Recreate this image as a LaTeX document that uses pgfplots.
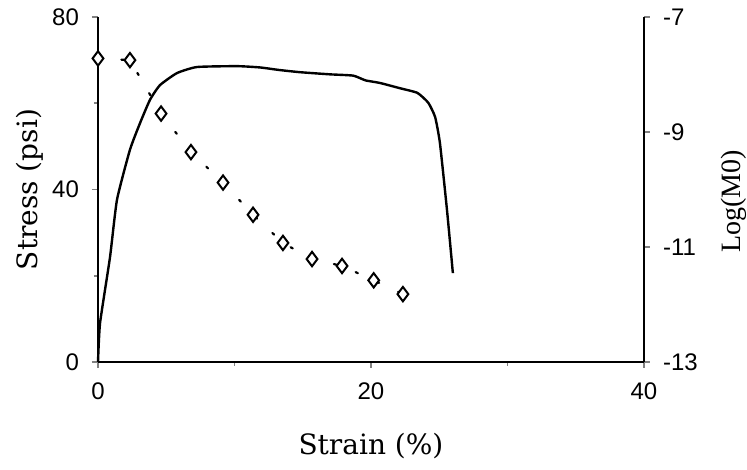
\documentclass[border=0pt]{standalone}
\usepackage{fontspec}
\usepackage{pgfplots}
\pgfplotsset{compat=1.18}
\newfontfamily\tickfont{Liberation Sans}
\newfontfamily\labfont{DejaVu Serif}
\newfontfamily\timesfont{Liberation Serif}
\begin{document}
\begin{tikzpicture}
\begin{axis}[
  scale only axis, width=273pt, height=172.5pt,
  xmin=0, xmax=40, ymin=0, ymax=80,
  axis x line*=bottom, axis y line*=left,
  axis line style={line width=1.1pt, -},
  xtick={0,20,40}, minor xtick={10,30},
  ytick={0,40,80}, minor ytick={20,60},
  tick align=outside, major tick length=3pt, minor tick length=2pt,
  tick style={line width=0.9pt},
  /pgf/number format/assume math mode=true,
  ticklabel style={font=\tickfont\fontsize{12}{14}\selectfont},
  yticklabel style={xshift=-3pt},
  xticklabel style={yshift=-4pt},
  xlabel={Strain (\%)}, ylabel={Stress (psi)},
  every axis x label/.style={at={(axis description cs:0.5,-0.2696)}, anchor=base, font=\labfont\fontsize{14}{16}\selectfont},
  every axis y label/.style={at={(axis description cs:-0.1117,0.5)}, rotate=90, anchor=base, font=\labfont\fontsize{14}{16}\selectfont},
  clip=false,
]
\addplot[black, line width=1.2pt, smooth, tension=0.3] coordinates {
(0,0) (0.15,9.0) (0.88,24.3) (1.39,37.6) (2.34,49.2) (3.08,55.4) (3.81,60.8)
(4.54,64.2) (5.79,67.0) (7.25,68.4) (10.2,68.6) (11.87,68.3) (13.3,67.7)
(14.8,67.2) (17.0,66.7) (18.7,66.4) (19.6,65.3) (20.66,64.7) (22.1,63.5)
(23.4,62.4) (24.2,60.1) (24.7,56.8) (25.05,50.8) (25.57,35.2) (26.0,20.6)
};
\coordinate (tl) at (axis cs:-7.18,83.94);
\coordinate (br) at (axis cs:47.55,-25.04);
\end{axis}
\begin{axis}[
  scale only axis, width=273pt, height=172.5pt,
  xmin=0, xmax=40, ymin=-13, ymax=-7,
  axis x line=none, axis y line*=right,
  axis line style={line width=1.1pt, -},
  ytick={-13,-11,-9,-7},
  tick align=outside, major tick length=3pt,
  tick style={line width=0.9pt},
  /pgf/number format/assume math mode=true,
  ticklabel style={font=\tickfont\fontsize{12}{14}\selectfont},
  yticklabel style={xshift=3pt},
  ylabel={Log(M0)},
  every axis y label/.style={at={(axis description cs:1.176,0.465)}, rotate=90, anchor=base, font=\timesfont\fontsize{14}{16}\selectfont},
  clip=false,
]
\addplot[black, line width=1.1pt, dash pattern=on 1.2pt off 10.5pt, line cap=round,
  mark=diamond*, mark size=3.6pt, mark options={solid, fill=white, draw=black, line width=1pt}] coordinates {
(0,-7.72) (2.34,-7.75) (4.62,-8.68) (6.81,-9.35) (9.16,-9.88) (11.36,-10.44)
(13.55,-10.93) (15.68,-11.21) (17.88,-11.33) (20.2,-11.58) (22.34,-11.82)
};
\end{axis}
\pgfresetboundingbox
\path[use as bounding box] (tl) rectangle (br);
\end{tikzpicture}
\end{document}
